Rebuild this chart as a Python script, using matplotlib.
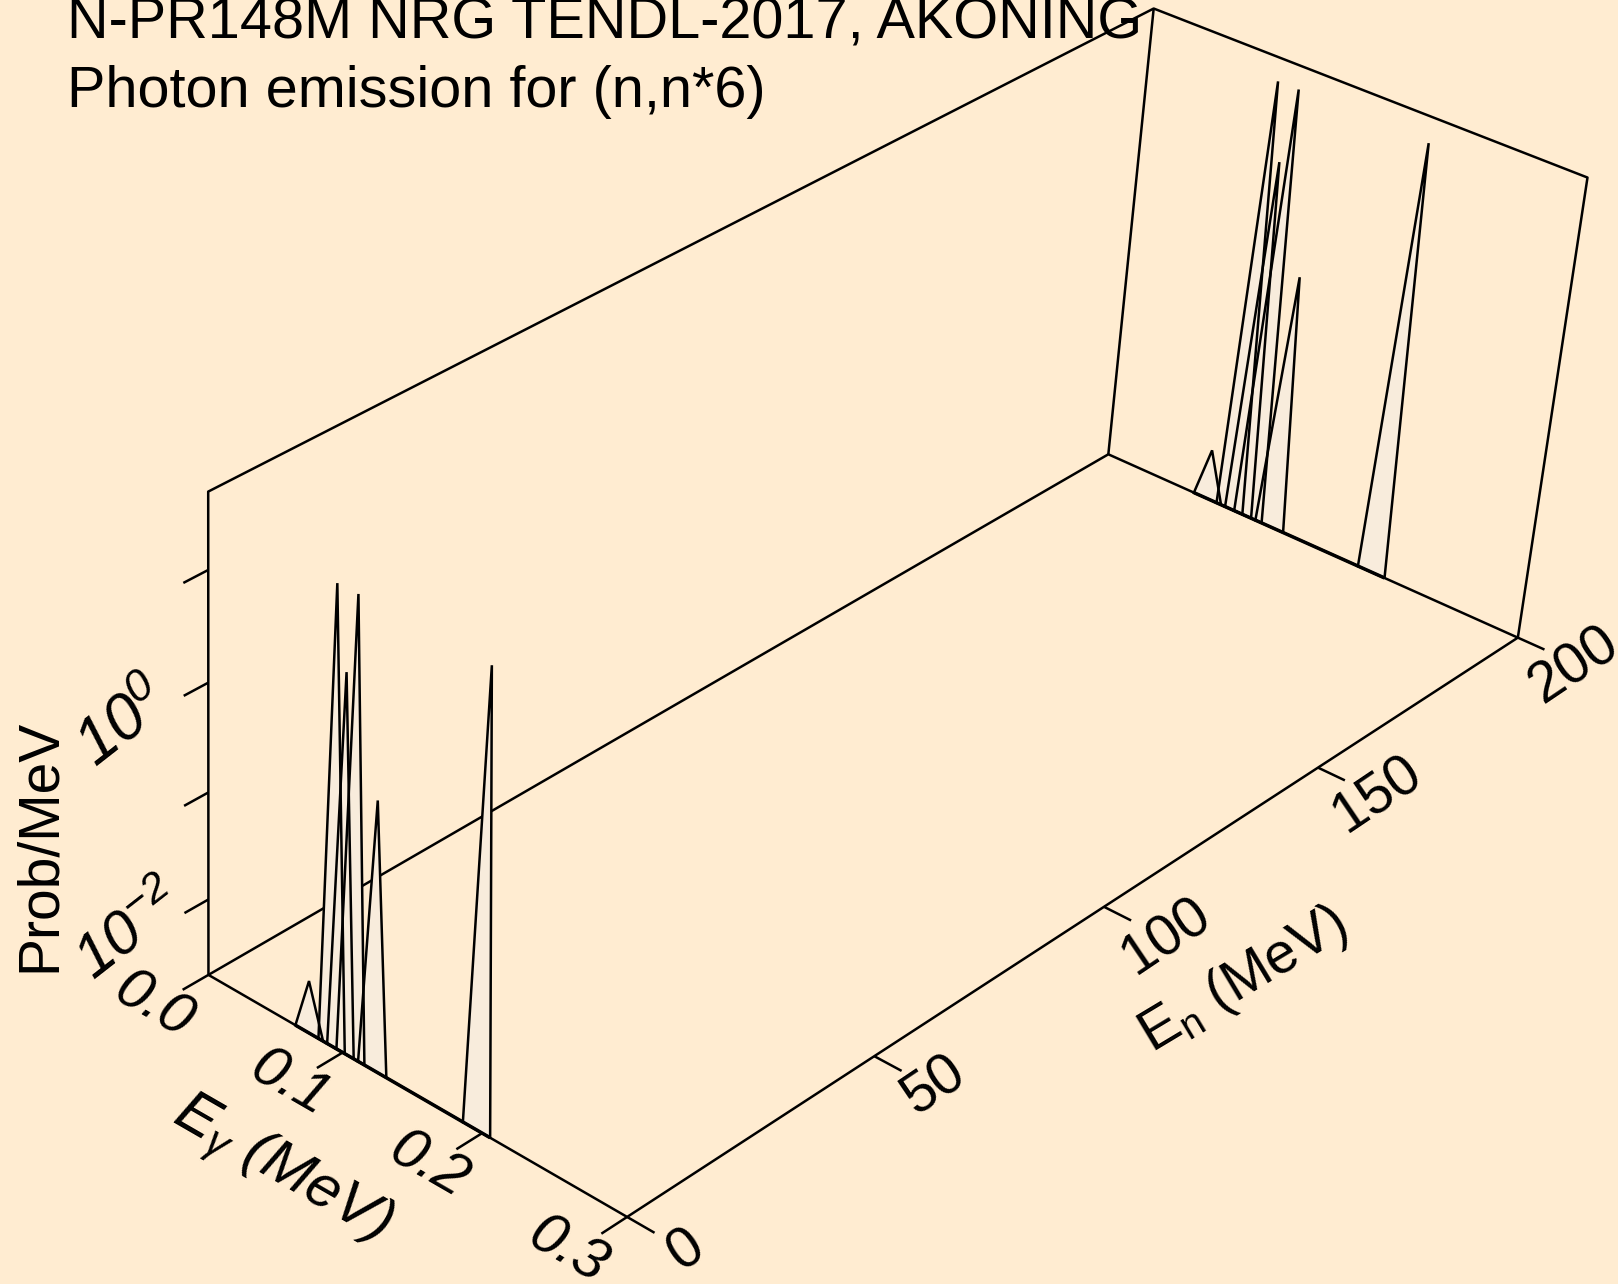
import numpy as np
import matplotlib
matplotlib.use("Agg")
import matplotlib.pyplot as plt

plt.rcParams['font.family'] = ['Liberation Sans', 'DejaVu Sans']
plt.rcParams['mathtext.default'] = 'regular'
plt.rcParams['mathtext.fontset'] = 'custom'
plt.rcParams['mathtext.it'] = 'Liberation Sans:italic'
plt.rcParams['mathtext.rm'] = 'Liberation Sans'

# ---- data ----
incident_energies = [0.0, 200.0]                         # MeV
peak_left = [0.0652, 0.0822, 0.0886, 0.0954, 0.1112, 0.1864]   # MeV
peak_centre = [0.0748, 0.0912, 0.0985, 0.1058, 0.1217, 0.1962]  # MeV
peak_right = [0.0856, 0.1015, 0.1080, 0.1158, 0.1317, 0.2056]  # MeV
peak_prob = [0.0059, 29.0, 5.5, 29.0, 0.58, 27.5]              # prob/MeV
eg_ticks = [0.0, 0.1, 0.2, 0.3]
en_ticks = [0, 50, 100, 150, 200]
prob_ticks = [1e-2, 1e-1, 1e0, 1e1]
eg_range = (0.0, 0.3)
en_range = (0.0, 200.0)
prob_range = (10 ** -2.72, 10 ** 1.68)
title_lines = ["N-PR148M NRG TENDL-2017, AKONING", "Photon emission for (n,n*6)"]

BG = '#ffecd1'
FILL = '#f8ecdc'
LW = 1.8
K = 1618 / 1568


def zscale(p):
    return np.log10(p)


zlo, zhi = zscale(prob_range[0]), zscale(prob_range[1])


def norm(eg, en, z):
    return eg / eg_range[1], en / en_range[1], (z - zlo) / (zhi - zlo)


# camera (a projective view of the box), fitted to the box geometry
view_world = [
    (0, 0, zlo), (.3, 0, zlo), (0, 200, zlo), (.3, 200, zlo),
    (0, 0, zhi), (0, 200, zhi), (.3, 200, zhi),
    (.3, 50, zlo), (.3, 100, zlo), (.3, 150, zlo),
    (.1, 0, zlo), (.2, 0, zlo),
    (0, 0, -2), (0, 0, -1), (0, 0, 0), (0, 0, 1),
]
view_screen = [
    (202, 943), (607, 1179), (1074, 440), (1470, 618),
    (202, 475), (1118, 8), (1538, 172),
    (848, 1023), (1070, 880), (1279, 744),
    (331.6, 1018.6), (466.8, 1098),
    (202, 872.9), (202, 770.4), (202, 662.9), (202, 552),
]
rows, rhs = [], []
for (eg, en, z), (u, v) in zip(view_world, view_screen):
    a, b, c = norm(eg, en, z)
    u, v = u * K / 1000, v * K / 1000
    rows.append([a, b, c, 1, 0, 0, 0, 0, -u * a, -u * b, -u * c]); rhs.append(u)
    rows.append([0, 0, 0, 0, a, b, c, 1, -v * a, -v * b, -v * c]); rhs.append(v)
sol = np.linalg.lstsq(np.array(rows), np.array(rhs), rcond=None)[0]
P = np.append(sol, 1.0).reshape(3, 4)


def project(eg, en, z):
    eg, en, z = np.broadcast_arrays(np.asarray(eg, float), np.asarray(en, float), np.asarray(z, float))
    a, b, c = norm(eg, en, z)
    h = np.stack([a, b, c, np.ones_like(a)])
    q = P @ h.reshape(4, -1)
    return (q[0] / q[2] * 1000).reshape(a.shape), (q[1] / q[2] * 1000).reshape(a.shape)


fig = plt.figure(figsize=(16.18, 12.84), dpi=100, facecolor=BG)
ax = fig.add_axes([0, 0, 1, 1])
ax.set_xlim(0, 1618)
ax.set_ylim(1284, 0)
ax.axis('off')


def line3(eg, en, z, **kw):
    x, y = project(eg, en, z)
    ax.plot(x, y, color='black', lw=kw.pop('lw', LW), solid_capstyle='butt', **kw)


# box
e0, e1 = eg_range
n0, n1 = en_range
line3([e0, e1, e1, e0, e0], [n0, n0, n1, n1, n0], [zlo] * 5, zorder=1)
line3([e0, e0, e0, e1, e1], [n0, n0, n1, n1, n1], [zlo, zhi, zhi, zhi, zlo], zorder=1)
line3([e0, e0], [n1, n1], [zlo, zhi], zorder=1)

# ticks
for t in eg_ticks:
    line3([t, t], [n0, n0 - 5.0], [zlo, zlo], zorder=1)
for t in en_ticks:
    line3([e1, e1 + 0.0185], [t, t], [zlo, zlo], zorder=1)
for t in prob_ticks:
    line3([e0, e0], [n0, n0 - 4.6], [zscale(t)] * 2, zorder=1)

# spectra: fills first, then all outlines on top
triangles = []
for en in incident_energies:
    for l, c, r, p in zip(peak_left, peak_centre, peak_right, peak_prob):
        triangles.append(project([l, c, r, l], [en] * 4, [zlo, zscale(p), zlo, zlo]))
for x, y in triangles:
    ax.fill(x, y, facecolor=FILL, edgecolor='none', zorder=2)
for x, y in triangles:
    ax.plot(x, y, color='black', lw=LW, solid_joinstyle='bevel', zorder=3)
for en in incident_energies:
    line3([peak_left[0], peak_right[-1]], [en, en], [zlo, zlo], lw=LW * 1.4, zorder=3)

# text
TS = 41.5
ax.text(67, 38.5, title_lines[0], fontsize=TS, ha='left', va='baseline')
ax.text(67, 107, title_lines[1], fontsize=TS, ha='left', va='baseline')


def label(x, y, s, rot, **kw):
    ax.text(x * K, y * K, s, rotation=rot, rotation_mode='anchor', ha='center', va='center',
            fontsize=kw.pop('fontsize', 42), **kw)


for (x, y), s in zip([(149, 975), (280, 1050), (415, 1130), (550, 1212)], ['0.0', '0.1', '0.2', '0.3']):
    label(x, y, s, -30, style='italic')
for (x, y), s in zip([(665, 1212), (905, 1052), (1130, 908), (1335, 770), (1525, 645)],
                     ['0', '50', '100', '150', '200']):
    label(x, y, s, 34, fontsize=41)
label(120, 702, r'$\mathregular{10^{0}}$', 38, style='italic', fontsize=46)
label(127, 903, r'$\mathregular{10^{-2}}$', 38, style='italic', fontsize=44)
label(272, 1134, r'$\mathregular{E_{\gamma}}$ (MeV)', -30, style='italic', fontsize=43)
label(1205, 950, r'$\mathregular{E_{n}}$ (MeV)', 31, fontsize=41)
ax.text(40, 845, 'Prob/MeV', rotation=90, rotation_mode='anchor', ha='center', va='center', fontsize=41)

fig.savefig('out.png', dpi=100, facecolor=BG)
